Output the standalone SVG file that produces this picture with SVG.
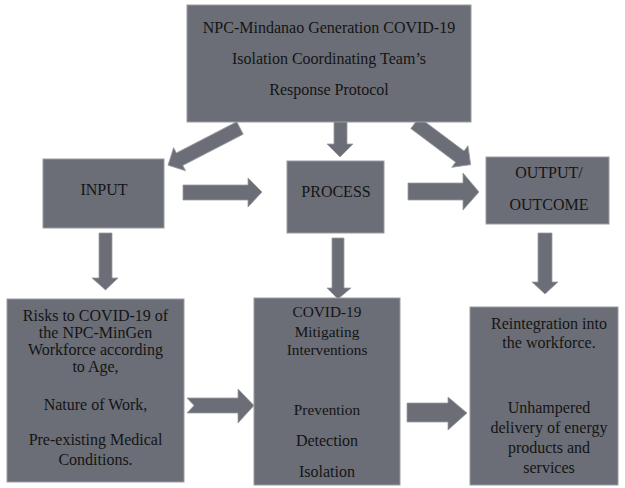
<svg xmlns="http://www.w3.org/2000/svg" width="625" height="488" viewBox="0 0 625 488">
<style>
.box{fill:#6b6e76;stroke:#9a9ca2;stroke-width:1}
.arr{fill:#6b6e76;stroke:#9a9ca2;stroke-width:0.8}
text{font-family:"Liberation Serif","Times New Roman",serif;fill:#141414;text-anchor:middle;font-size:16px}
.s{font-size:15.3px}
</style>
<rect width="625" height="488" fill="#ffffff"/>
<g id="connectors">
<polygon class="arr" transform="translate(240,128) rotate(152.7)" points="0,-7 68,-7 68,-13 81,0 68,13 68,7 0,7"/>
<polygon class="arr" points="334,118 347,118 347,144 353,144 340,157 327,144 334,144"/>
<polygon class="arr" transform="translate(415,123) rotate(36.8)" points="0,-7 56,-7 56,-13.5 69.5,0 56,13.5 56,7 0,7"/>
<polygon class="arr" points="183,185 248,185 248,178 262,192 248,207 248,200 183,200"/>
<polygon class="arr" points="408,183 463,183 463,173 479,192 463,210 463,200 408,200"/>
<polygon class="arr" points="99,233 112,233 112,278 118,278 105.5,290 92,278 99,278"/>
<polygon class="arr" points="332,238 344,238 344,288 351,288 338,299 327,288 332,288"/>
<polygon class="arr" points="538,233 552,233 552,282 558,282 545,294 532,282 538,282"/>
<polygon class="arr" points="187,398 238,398 238,389 254,405.5 238,423 238,413 187,413 194,405.5"/>
<polygon class="arr" points="407,403 448,403 448,397 467,413 448,430 448,422 407,422"/>
</g>
<g id="protocol">
<rect class="box" x="187" y="5" width="284" height="117"/>
<text x="329" y="33" font-size="16.5">NPC-Mindanao Generation COVID-19</text>
<text x="329" y="64" font-size="16.5">Isolation Coordinating Team’s</text>
<text x="329" y="95" font-size="16.5">Response Protocol</text>
</g>
<g id="input">
<rect class="box" x="43" y="159" width="121" height="69"/>
<text x="104" y="195">INPUT</text>
</g>
<g id="process">
<rect class="box" x="287" y="161" width="97" height="72"/>
<text x="336" y="197">PROCESS</text>
</g>
<g id="output">
<rect class="box" x="486" y="157" width="123" height="67"/>
<text x="549" y="178">OUTPUT/</text>
<text x="549" y="210">OUTCOME</text>
</g>
<g id="risks">
<rect class="box" x="7" y="299" width="177" height="183"/>
<text x="95.5" y="321">Risks to COVID-19 of</text>
<text x="95.5" y="338">the NPC-MinGen</text>
<text x="95.5" y="355">Workforce according</text>
<text x="95.5" y="372">to Age,</text>
<text x="95.5" y="410">Nature of Work,</text>
<text x="95.5" y="445">Pre-existing Medical</text>
<text x="95.5" y="465">Conditions.</text>
</g>
<g id="interventions">
<rect class="box" x="254" y="298" width="146" height="187"/>
<text class="s" x="327" y="317">COVID-19</text>
<text class="s" x="327" y="337">Mitigating</text>
<text class="s" x="327" y="355">Interventions</text>
<text class="s" x="327" y="415">Prevention</text>
<text x="327" y="446">Detection</text>
<text x="327" y="477">Isolation</text>
</g>
<g id="outcome">
<rect class="box" x="470" y="307" width="148" height="178"/>
<text x="549" y="329">Reintegration into</text>
<text x="549" y="348">the workforce.</text>
<text x="549" y="413">Unhampered</text>
<text x="549" y="433">delivery of energy</text>
<text x="549" y="453">products and</text>
<text x="549" y="473">services</text>
</g>
</svg>
